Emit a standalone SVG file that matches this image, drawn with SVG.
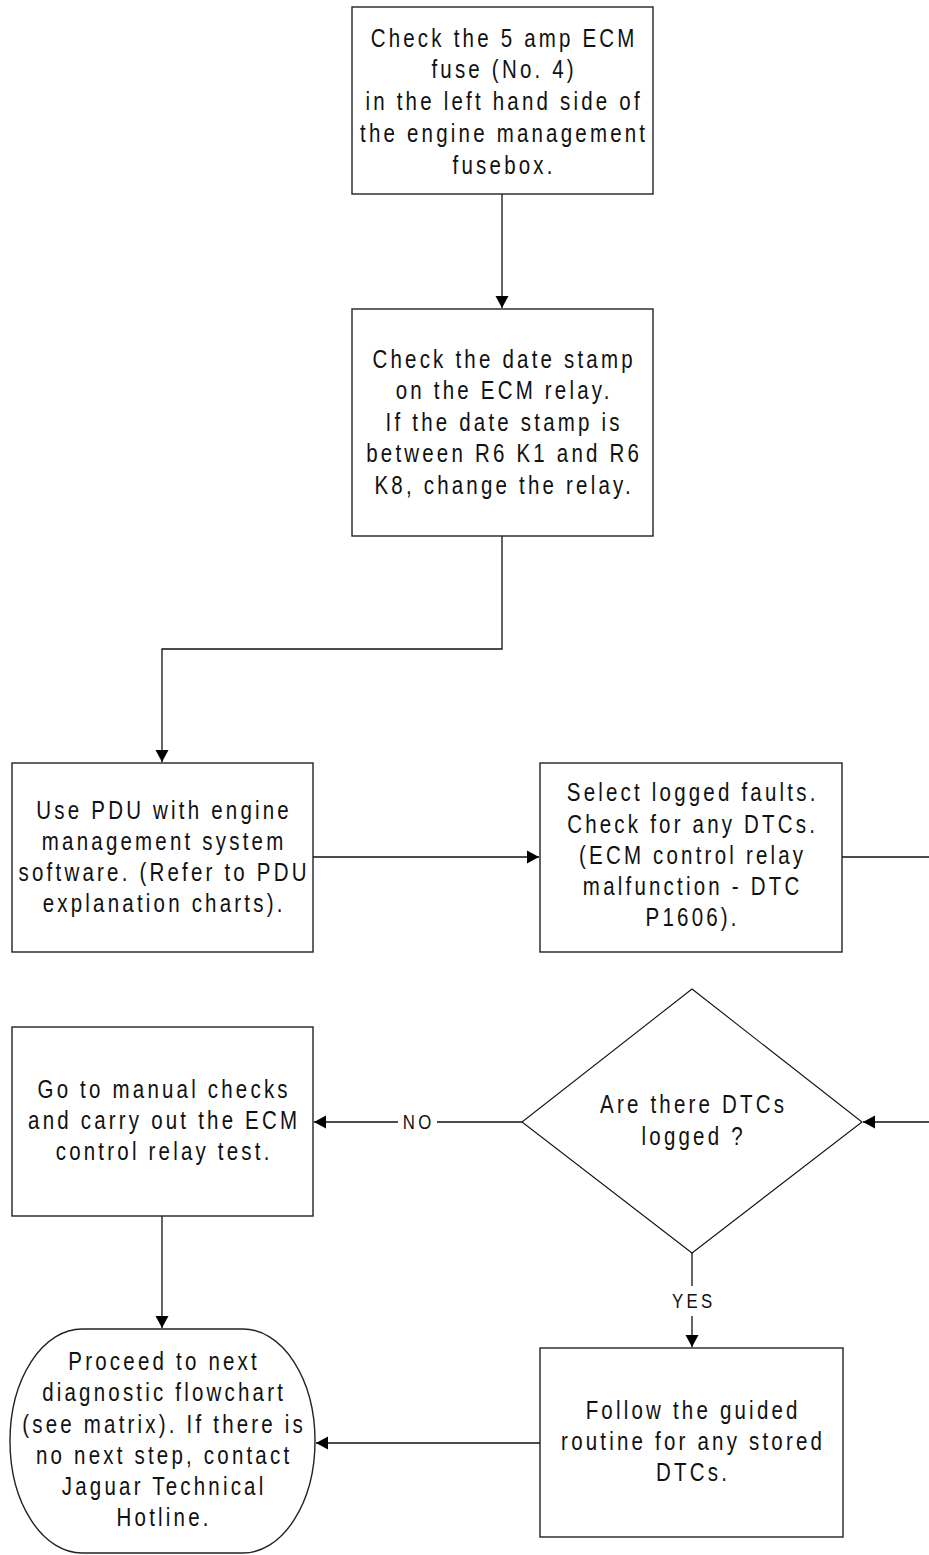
<svg xmlns="http://www.w3.org/2000/svg" width="929" height="1555" viewBox="0 0 929 1555">
<style>
.box{fill:#fff;stroke:#222;stroke-width:1.4}
.dia{fill:#fff;stroke:#111;stroke-width:1.1}
.c{fill:none;stroke:#111;stroke-width:1.3}
.t{font-family:"Liberation Sans",Arial,sans-serif;font-size:25px;letter-spacing:3.9px;fill:#111;text-anchor:middle}
.l{font-family:"Liberation Sans",Arial,sans-serif;font-size:20.5px;letter-spacing:4px;fill:#111;text-anchor:middle}
</style>
<defs>
<marker id="ah" markerUnits="userSpaceOnUse" markerWidth="14" markerHeight="14" refX="12" refY="7" orient="auto">
<path d="M0,0.5 L12,7 L0,13.5 z" fill="#000"/>
</marker>
</defs>
<rect width="929" height="1555" fill="#fff"/>
<g id="connectors">
<path class="c" d="M502,194 V308" marker-end="url(#ah)"/>
<path class="c" d="M502,536 V649 H162 V762" marker-end="url(#ah)"/>
<path class="c" d="M313,857 H539" marker-end="url(#ah)"/>
<path class="c" d="M842,857 H945 V1122 H863" marker-end="url(#ah)"/>
<path class="c" d="M522,1122 H437"/>
<path class="c" d="M398,1122 H314" marker-end="url(#ah)"/>
<path class="c" d="M692,1253 V1286"/>
<path class="c" d="M692,1316 V1347" marker-end="url(#ah)"/>
<path class="c" d="M162,1216 V1328" marker-end="url(#ah)"/>
<path class="c" d="M540,1443 H316" marker-end="url(#ah)"/>
<text class="l" transform="translate(417,0) scale(0.82,1)" x="2" y="1129">NO</text>
<text class="l" transform="translate(692,0) scale(0.82,1)" x="2" y="1308">YES</text>
</g>
<g id="n1">
<rect class="box" x="352" y="7" width="301" height="187"/>
<text class="t" transform="translate(502.5,0) scale(0.82,1)"><tspan x="2" y="47">Check the 5 amp ECM</tspan><tspan x="2" y="78.5">fuse (No. 4)</tspan><tspan x="2" y="110.5">in the left hand side of</tspan><tspan x="2" y="142">the engine management</tspan><tspan x="2" y="174">fusebox.</tspan></text>
</g>
<g id="n2">
<rect class="box" x="352" y="309" width="301" height="227"/>
<text class="t" transform="translate(502.5,0) scale(0.82,1)"><tspan x="2" y="368">Check the date stamp</tspan><tspan x="2" y="399.5">on the ECM relay.</tspan><tspan x="2" y="431">If the date stamp is</tspan><tspan x="2" y="462.5">between R6 K1 and R6</tspan><tspan x="2" y="494">K8, change the relay.</tspan></text>
</g>
<g id="n3">
<rect class="box" x="12" y="763" width="301" height="189"/>
<text class="t" transform="translate(162.5,0) scale(0.82,1)"><tspan x="2" y="819">Use PDU with engine</tspan><tspan x="2" y="850">management system</tspan><tspan x="2" y="881">software. (Refer to PDU</tspan><tspan x="2" y="912">explanation charts).</tspan></text>
</g>
<g id="n4">
<rect class="box" x="540" y="763" width="302" height="189"/>
<text class="t" transform="translate(691,0) scale(0.82,1)"><tspan x="2" y="801.5">Select logged faults.</tspan><tspan x="2" y="833">Check for any DTCs.</tspan><tspan x="2" y="864">(ECM control relay</tspan><tspan x="2" y="895">malfunction - DTC</tspan><tspan x="2" y="926.5">P1606).</tspan></text>
</g>
<g id="n5">
<rect class="box" x="12" y="1027" width="301" height="189"/>
<text class="t" transform="translate(162.5,0) scale(0.82,1)"><tspan x="2" y="1098">Go to manual checks</tspan><tspan x="2" y="1129">and carry out the ECM</tspan><tspan x="2" y="1160">control relay test.</tspan></text>
</g>
<g id="n6">
<path class="dia" d="M692,989 L862,1122 L692,1253 L522,1122 z"/>
<text class="t" transform="translate(692,0) scale(0.82,1)"><tspan x="2" y="1113">Are there DTCs</tspan><tspan x="2" y="1145">logged ?</tspan></text>
</g>
<g id="n7">
<rect class="box" x="540" y="1348" width="303" height="189"/>
<text class="t" transform="translate(691.5,0) scale(0.82,1)"><tspan x="2" y="1419">Follow the guided</tspan><tspan x="2" y="1450">routine for any stored</tspan><tspan x="2" y="1481.5">DTCs.</tspan></text>
</g>
<g id="n8">
<rect class="box" x="10" y="1329" width="305" height="224" rx="72" ry="112"/>
<text class="t" transform="translate(162.5,0) scale(0.82,1)"><tspan x="2" y="1370">Proceed to next</tspan><tspan x="2" y="1401.5">diagnostic flowchart</tspan><tspan x="2" y="1433">(see matrix). If there is</tspan><tspan x="2" y="1464.5">no next step, contact</tspan><tspan x="2" y="1495.5">Jaguar Technical</tspan><tspan x="2" y="1526.5">Hotline.</tspan></text>
</g>
</svg>
